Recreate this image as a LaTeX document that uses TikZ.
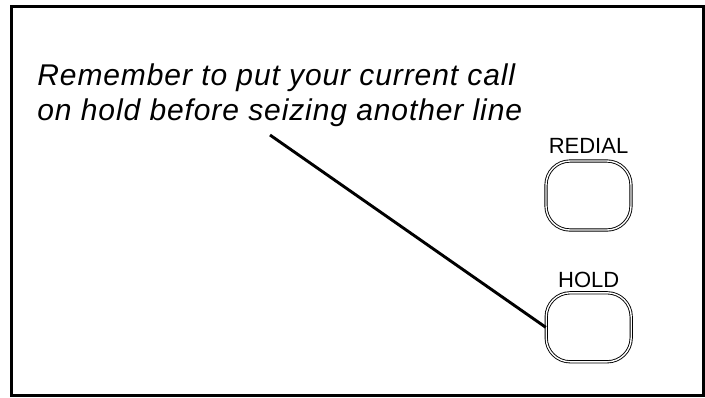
\documentclass[tikz,border=0pt]{standalone}
\usepackage{fontspec}
\setmainfont{Liberation Sans}
\usetikzlibrary{positioning}

\begin{document}
\begin{tikzpicture}[
    x=0.5pt, y=-0.5pt,
    note/.style={
        align=left,
        font=\fontsize{15}{17.5}\selectfont\itshape\addfontfeature{LetterSpace=3},
        inner sep=0pt,
        anchor=base west
      },
    key/.style={
        draw,
        double,
        double distance=0.7pt,
        line width=0.45pt,
        rounded corners=12pt,
        minimum width=42.5pt,
        minimum height=34.5pt,
        inner sep=0pt
      },
    keylabel/.style={
        font=\fontsize{11}{13}\selectfont,
        inner sep=0pt
      },
    pointer/.style={
        line width=1.45pt
      }
  ]
  \useasboundingbox (0,0) rectangle (705,397);

  % ================= frame =================
  \draw[line width=1.5pt] (11,6) rectangle (703,395);

  % ================= reminder text =================
  \node[note] (remind) at (37,120) {Remember to put your current call\\on hold before seizing another line};

  % ================= buttons =================
  \node[key] (redial) at (588.5,195.5) {};
  \node[key] (hold) at (588.7,327.3) {};
  \node[keylabel, above=3.5pt of redial] (redialtxt) {REDIAL};
  \node[keylabel, above=2.2pt of hold] (holdtxt) {HOLD};

  % pointer from text to HOLD
  \coordinate (tip) at (270,135);
  \draw[pointer] (tip) -- (hold.west);
\end{tikzpicture}
\end{document}
